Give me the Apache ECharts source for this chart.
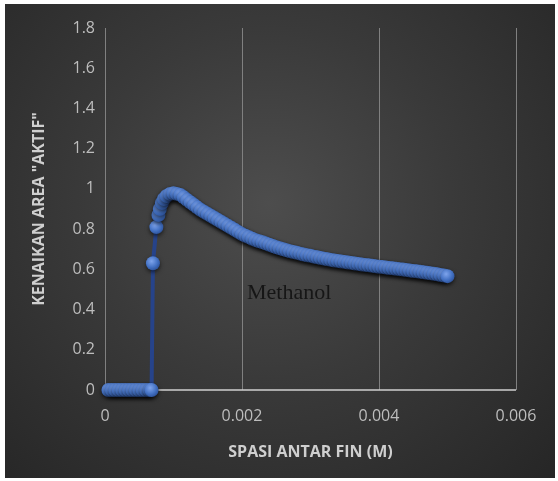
<!DOCTYPE html>
<html><head><meta charset="utf-8">
<script src="https://cdn.jsdelivr.net/npm/echarts@6/dist/echarts.min.js"></script>
<style>
html,body{margin:0;padding:0;background:#fff;}
#c{position:absolute;left:5px;top:4px;width:550px;height:474px;
background:radial-gradient(ellipse at 48% 42%, #4d4d4d 0%, #3a3a3a 45%, #262626 100%);}
</style></head>
<body><div id="c"></div>
<script>
const xTicks = [0, 0.002, 0.004, 0.006];
const spacing = [
0.00005,0.0001,0.00015,0.0002,0.00025,0.0003,0.00035,0.0004,0.00045,0.0005,0.00055,0.0006,0.00065,0.00068,
0.0007,0.00075,0.00078,0.0008,0.00083,0.00086,0.0009,0.00095,0.001,0.00105,
0.0011,0.00115,0.0012,0.00125,0.0013,0.00135,0.0014,0.00145,0.0015,0.00155,
0.0016,0.00165,0.0017,0.00175,0.0018,0.00185,0.0019,0.00195,0.002,0.00205,
0.0021,0.00215,0.0022,0.00225,0.0023,0.00235,0.0024,0.00245,0.0025,0.00255,
0.0026,0.00265,0.0027,0.00275,0.0028,0.00285,0.0029,0.00295,0.003,0.00305,
0.0031,0.00315,0.0032,0.00325,0.0033,0.00335,0.0034,0.00345,0.0035,0.00355,
0.0036,0.00365,0.0037,0.00375,0.0038,0.00385,0.0039,0.00395,0.004,0.00405,
0.0041,0.00415,0.0042,0.00425,0.0043,0.00435,0.0044,0.00445,0.0045,0.00455,
0.0046,0.00465,0.0047,0.00475,0.0048,0.00485,0.0049,0.00495,0.005];
const increase = [
0,0,0,0,0,0,0,0,0,0,0,0,0,0,
0.63,0.81,0.87,0.9,0.93,0.95,0.965,0.975,0.978,0.975,
0.97,0.958,0.945,0.932,0.92,0.907,0.895,0.885,0.875,0.865,
0.855,0.845,0.835,0.825,0.815,0.805,0.795,0.785,0.775,0.767,
0.76,0.752,0.745,0.74,0.735,0.728,0.722,0.716,0.71,0.705,
0.7,0.695,0.69,0.686,0.682,0.678,0.674,0.67,0.667,0.663,
0.66,0.656,0.653,0.65,0.647,0.644,0.642,0.639,0.637,0.634,
0.632,0.629,0.627,0.624,0.622,0.62,0.618,0.615,0.613,0.611,
0.609,0.607,0.605,0.603,0.601,0.599,0.597,0.594,0.592,0.59,
0.588,0.585,0.583,0.58,0.578,0.575,0.572,0.569,0.566];
const seriesLabel = 'Methanol';

const data = spacing.map((x,i)=>[x, increase[i]]);
const chart = echarts.init(document.getElementById('c'));
chart.setOption({
  animation:false,
  backgroundColor:'transparent',
  grid:{left:100,right:39,top:24,bottom:88},
  xAxis:{type:'value',min:0,max:0.006,interval:0.002,
    axisLine:{show:false},axisTick:{show:false},
    splitLine:{show:true,lineStyle:{color:'#808080',width:1}},
    axisLabel:{color:'#bdbdbd',fontFamily:'Open Sans',fontSize:16,margin:18},
    name:'SPASI ANTAR FIN (M)',nameLocation:'middle',nameGap:54,
    nameTextStyle:{color:'#cfcfcf',fontFamily:'Open Sans',fontWeight:'bold',fontSize:16}},
  yAxis:{type:'value',min:0,max:1.8,interval:0.2,
    axisLine:{show:false},axisTick:{show:false},
    splitLine:{show:false},
    axisLabel:{color:'#bdbdbd',fontFamily:'Open Sans',fontSize:16,margin:10},
    name:'KENAIKAN AREA "AKTIF"',nameLocation:'middle',nameGap:58,
    nameTextStyle:{color:'#cfcfcf',fontFamily:'Open Sans',fontWeight:'bold',fontSize:16}},
  series:[{
    type:'line',data:data,symbol:'circle',symbolSize:14,showAllSymbol:true,
    lineStyle:{color:'#26438a',width:4},
    itemStyle:{color:{type:'radial',x:0.4,y:0.35,r:0.7,colorStops:[{offset:0,color:'#7ea4ec'},{offset:0.6,color:'#4472c4'},{offset:1,color:'#2a4f96'}]},
      borderWidth:0,shadowColor:'rgba(0,0,0,0.6)',shadowBlur:4,shadowOffsetY:2},
    markLine:{silent:true,symbol:'none',label:{show:false},lineStyle:{color:'#d0d0d0',width:1.5,type:'solid'},data:[{yAxis:0}],z:1},
    z:3
  }],
  graphic:[{type:'text',left:242,top:278,style:{text:seriesLabel,fill:'#161616',font:'22px "Liberation Serif"'}}]
});
</script></body></html>
